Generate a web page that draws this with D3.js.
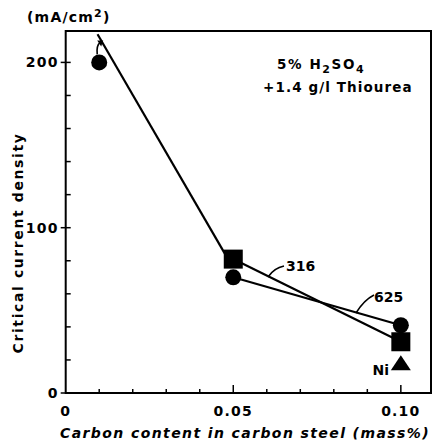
<!DOCTYPE html>
<html>
<head>
<meta charset="utf-8">
<script src="https://cdn.jsdelivr.net/npm/d3@7"></script>
<style>
  body { margin: 0; background: #fff; }
  text { font-family: "DejaVu Sans", sans-serif; fill: #000; }
</style>
</head>
<body>
<svg id="chart" width="433" height="443"></svg>
<script>
// values (carbon content mass%, current density mA/cm2)
const steelLine = [[0.0095, 217], [0.049, 79]];
const circles = [[0.01, 200], [0.05, 70], [0.10, 41]];     // 625
const squares = [[0.05, 81], [0.10, 31]];                  // 316
const triangles = [[0.10, 18]];                            // Ni
const line316 = [[0.05, 81], [0.10, 31]];
const line625 = [[0.05, 70], [0.10, 41]];
const yTicks = [0, 20, 40, 60, 80, 100, 120, 140, 160, 180, 200];
const yLabels = [0, 100, 200];
const xTicks = [0.01, 0.02, 0.03, 0.04, 0.05, 0.06, 0.07, 0.08, 0.09, 0.10];
const xLabels = [[0, "0"], [0.05, "0.05"], [0.10, "0.10"]];

const svg = d3.select("#chart");
const x = d3.scaleLinear().domain([0, 0.109]).range([65.7, 431]);
const y = d3.scaleLinear().domain([0, 219]).range([393, 31]);

const g = svg.append("g");

// frame
g.append("path")
  .attr("d", `M${x(0)},${y(0)}V${y(219)}H${x(0.109)}V${y(0)}Z`)
  .attr("fill", "none").attr("stroke", "#000").attr("stroke-width", 2);

// y ticks
g.selectAll(".yt").data(yTicks).enter().append("line")
  .attr("x1", d => yLabels.includes(d) ? x(0) - 5 : x(0))
  .attr("x2", x(0) + 5)
  .attr("y1", d => y(d)).attr("y2", d => y(d))
  .attr("stroke", "#000").attr("stroke-width", 1.5);
g.selectAll(".yl").data(yLabels).enter().append("text")
  .attr("x", x(0) - 7).attr("y", d => y(d) + 5)
  .attr("text-anchor", "end").attr("font-size", 14).attr("font-weight", "bold")
  .attr("letter-spacing", 1.2)
  .text(d => d);

// x ticks
g.selectAll(".xt").data(xTicks).enter().append("line")
  .attr("x1", d => x(d)).attr("x2", d => x(d))
  .attr("y1", y(0))
  .attr("y2", d => (Math.round(d * 100) % 5 === 0) ? y(0) - 8 : y(0) - 4)
  .attr("stroke", "#000").attr("stroke-width", 1.5);
g.selectAll(".xl").data(xLabels).enter().append("text")
  .attr("x", d => x(d[0])).attr("y", 416)
  .attr("text-anchor", "middle").attr("font-size", 14).attr("font-weight", "bold")
  .attr("letter-spacing", 1.2)
  .text(d => d[1]);

// axis titles
g.append("text").attr("x", 245).attr("y", 438)
  .attr("text-anchor", "middle").attr("font-size", 14).attr("font-weight", "bold")
  .attr("font-style", "italic").attr("letter-spacing", 1.4)
  .text("Carbon content in carbon steel (mass%)");
g.append("text")
  .attr("transform", "translate(23,243) rotate(-90)")
  .attr("text-anchor", "middle").attr("font-size", 14).attr("font-weight", "bold")
  .attr("letter-spacing", 1.6)
  .text("Critical current density");
const unit = g.append("text").attr("x", 27).attr("y", 22)
  .attr("font-size", 14).attr("font-weight", "bold").attr("letter-spacing", 1.2);
unit.append("tspan").text("(mA/cm");
unit.append("tspan").attr("dy", -5).attr("font-size", 11).text("2");
unit.append("tspan").attr("dy", 5).text(")");

// solution note
const t1 = g.append("text").attr("x", 277).attr("y", 69)
  .attr("font-size", 13.5).attr("font-weight", "bold").attr("letter-spacing", 1.6);
t1.append("tspan").text("5% H");
t1.append("tspan").attr("dy", 4).attr("font-size", 11).text("2");
t1.append("tspan").attr("dy", -4).text("SO");
t1.append("tspan").attr("dy", 4).attr("font-size", 11).text("4");
g.append("text").attr("x", 263).attr("y", 92)
  .attr("font-size", 13.5).attr("font-weight", "bold").attr("letter-spacing", 1.1)
  .text("+1.4 g/l  Thiourea");

// lines
const line = d3.line().x(d => x(d[0])).y(d => y(d[1]));
[steelLine, line316, line625].forEach(d => {
  g.append("path").attr("d", line(d))
    .attr("fill", "none").attr("stroke", "#000").attr("stroke-width", 2.2);
});

// markers
g.selectAll(".c").data(circles).enter().append("circle")
  .attr("cx", d => x(d[0])).attr("cy", d => y(d[1])).attr("r", 8);
g.selectAll(".s").data(squares).enter().append("rect")
  .attr("x", d => x(d[0]) - 9.5).attr("y", d => y(d[1]) - 9.5)
  .attr("width", 19).attr("height", 19);
g.selectAll(".t").data(triangles).enter().append("path")
  .attr("d", d => {
    const cx = x(d[0]), cy = y(d[1]);
    return `M${cx},${cy - 8}L${cx + 10},${cy + 7}L${cx - 10},${cy + 7}Z`;
  });

// arrow above the first circle (value beyond 200)
const ax = x(0.01), ay = y(200) - 8;
g.append("path")
  .attr("d", `M${ax - 2},${ay} Q${ax - 3},${ay - 9} ${ax + 1},${ay - 12}`)
  .attr("fill", "none").attr("stroke", "#000").attr("stroke-width", 1.6);
g.append("path")
  .attr("d", `M${ax + 4},${ay - 14}L${ax - 2},${ay - 14}L${ax + 2},${ay - 8}Z`);

// labels with leaders
g.append("path").attr("d", "M268,277 Q274,268 284,266")
  .attr("fill", "none").attr("stroke", "#000").attr("stroke-width", 1.6);
g.append("text").attr("x", 286).attr("y", 271)
  .attr("font-size", 14).attr("font-weight", "bold").text("316");
g.append("path").attr("d", "M356,313 Q364,300 374,295")
  .attr("fill", "none").attr("stroke", "#000").attr("stroke-width", 1.6);
g.append("text").attr("x", 374).attr("y", 302)
  .attr("font-size", 14).attr("font-weight", "bold").text("625");
g.append("text").attr("x", 389).attr("y", 375)
  .attr("text-anchor", "end").attr("font-size", 14).attr("font-weight", "bold").text("Ni");
</script>
</body>
</html>
